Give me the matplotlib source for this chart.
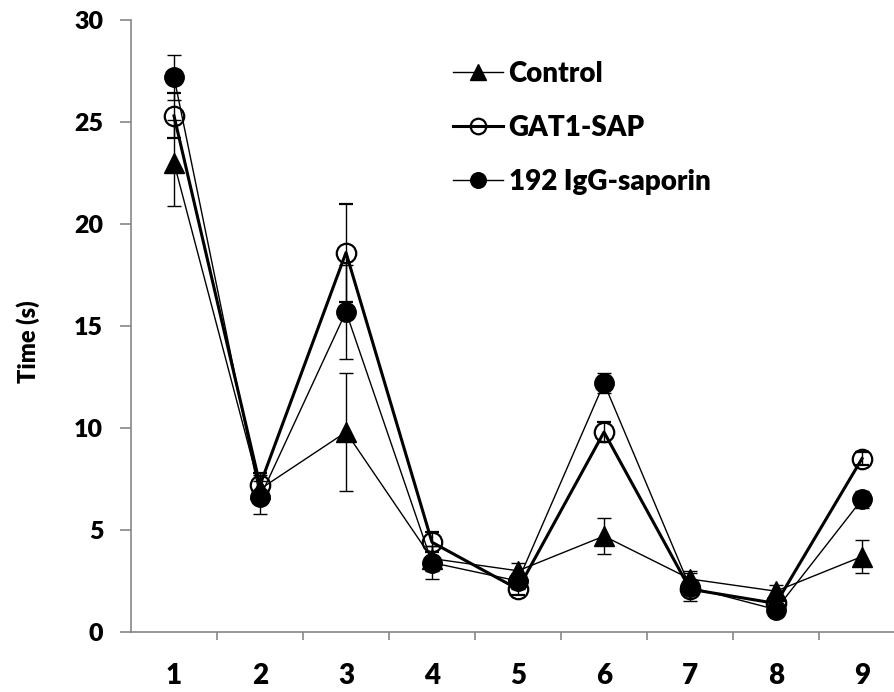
import matplotlib.pyplot as plt
from matplotlib.ticker import FixedLocator, NullFormatter

plt.rcParams['font.family'] = ['Lato', 'DejaVu Sans']
plt.rcParams['font.weight'] = 'heavy'

# trial number and mean time (s) with SEM for each group
trials = [1, 2, 3, 4, 5, 6, 7, 8, 9]

control = [23.0, 7.0, 9.8, 3.6, 3.0, 4.7, 2.6, 2.0, 3.7]
control_err = [2.1, 0.7, 2.9, 0.6, 0.4, 0.9, 0.4, 0.3, 0.8]

gat1_sap = [25.3, 7.2, 18.6, 4.4, 2.1, 9.8, 2.1, 1.4, 8.5]
gat1_err = [1.1, 0.6, 2.4, 0.5, 0.3, 0.5, 0.3, 0.3, 0.3]

igg_saporin = [27.2, 6.6, 15.7, 3.4, 2.5, 12.2, 2.2, 1.1, 6.5]
igg_err = [1.1, 0.8, 2.3, 0.8, 0.4, 0.5, 0.7, 0.3, 0.4]

fig = plt.figure(figsize=(8.95, 6.92), dpi=100)
ax = fig.add_axes([131 / 895, 60 / 692, 774 / 895, 612 / 692])

err_kw = dict(ecolor='black', elinewidth=1.0, capsize=5, capthick=1.0)

ax.errorbar(trials, control, yerr=control_err, color='black', lw=1.0,
            marker='^', ms=15, mfc='black', mec='black', label='Control', **err_kw)
ax.errorbar(trials, gat1_sap, yerr=gat1_err, color='black', lw=2.2,
            marker='o', ms=14, mfc='none', mec='black', mew=1.6, label='GAT1-SAP', **err_kw)
ax.errorbar(trials, igg_saporin, yerr=igg_err, color='black', lw=1.0,
            marker='o', ms=14, mfc='black', mec='black', label='192 IgG-saporin', **err_kw)

ax.set_xlim(0.5, 9.5)
ax.set_ylim(0, 30)
ax.set_yticks([0, 5, 10, 15, 20, 25, 30])

# category labels sit between the boundary ticks
ax.xaxis.set_major_locator(FixedLocator([1.5 + i for i in range(9)]))
ax.xaxis.set_major_formatter(NullFormatter())
ax.xaxis.set_minor_locator(FixedLocator(trials))
ax.set_xticklabels([str(t) for t in trials], minor=True)
ax.tick_params(axis='x', which='major', direction='out', length=6, width=1.2, color='#868686')
ax.tick_params(axis='x', which='minor', length=0, labelsize=20, pad=22)
ax.tick_params(axis='y', direction='out', length=8, width=1.2, color='#868686',
               labelsize=18, pad=12)

for side in ['top', 'right']:
    ax.spines[side].set_visible(False)
for side in ['left', 'bottom']:
    ax.spines[side].set_color('#868686')
    ax.spines[side].set_linewidth(1.2)

ax.set_ylabel('Time (s)', fontsize=17, fontweight='heavy')
ax.yaxis.set_label_coords(-0.118, 0.475)

handles, labels = ax.get_legend_handles_labels()
handles = [h[0] for h in handles]
ax.legend(handles, labels, loc='upper left', bbox_to_anchor=(428 / 895, 1 - 36 / 692),
          bbox_transform=fig.transFigure, frameon=False, fontsize=20,
          handlelength=1.8, handletextpad=0.2, labelspacing=1.0, markerscale=0.8)

fig.savefig('out.png', dpi=100)
